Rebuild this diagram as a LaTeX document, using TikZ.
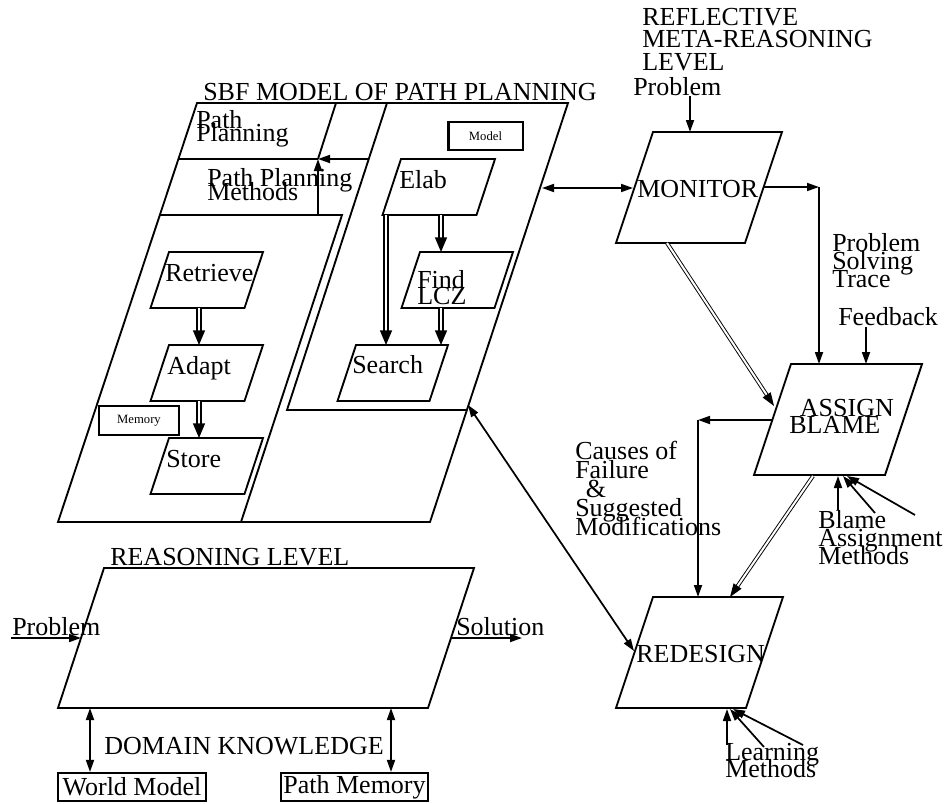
\documentclass[tikz,border=0pt]{standalone}
\usepackage{fontspec}
\setmainfont{Liberation Serif}
\usetikzlibrary{arrows.meta}
\lineskiplimit=-\maxdimen

\begin{document}
\begin{tikzpicture}[x=0.75pt,y=-0.75pt,>={Triangle[length=9pt,width=6pt]}]

  \tikzstyle{box}=[line width=1.4pt,line join=miter]
  \tikzstyle{flow}=[line width=1.3pt]
  \tikzstyle{dbl}=[double,double distance=1.6pt,line width=1.1pt,>={Triangle[length=11pt,width=9pt]}]
  \tikzstyle{thindbl}=[double,double distance=1.5pt,line width=0.7pt,>={Triangle[length=10pt,width=7pt]}]
  \tikzstyle{texto}=[inner sep=0pt,align=left,font=\fontsize{19.5}{14}\selectfont]
  \tikzstyle{small}=[draw,line width=2pt,inner sep=0pt,font=\fontsize{9.5}{11}\selectfont]
  \tikzstyle{store}=[draw,line width=1.6pt,inner sep=0pt,font=\fontsize{19.5}{14}\selectfont]

  \useasboundingbox (0,0) rectangle (945,803);

  \begin{scope}

    \draw[box] (197,103) -- (568,103) -- (430,522) -- (58,522) -- cycle;
    \draw[box] (387,103) -- (287,410) -- (467,410);
    \draw[box] (336,103) -- (318,159);
    \draw[box] (178,159) -- (318,159);
    \draw[box] (160,215) -- (342,215) -- (241,522);

    \draw[box] (401,159) -- (495,159) -- (476.5,215) -- (382.5,215) -- cycle;
    \draw[box] (420,252) -- (513,252) -- (494.5,308) -- (401.5,308) -- cycle;
    \draw[box] (356,345) -- (448,345) -- (429.5,401) -- (337.5,401) -- cycle;
    \draw[box] (169,252) -- (263,252) -- (244.5,308) -- (150.5,308) -- cycle;
    \draw[box] (169,345) -- (263,345) -- (244.5,401) -- (150.5,401) -- cycle;
    \draw[box] (169,438) -- (263,438) -- (244.5,494) -- (150.5,494) -- cycle;

    \draw[box] (653,132) -- (782,132) -- (745,243) -- (616,243) -- cycle;
    \draw[box] (791,364) -- (922,364) -- (885,475) -- (754,475) -- cycle;
    \draw[box] (653,597) -- (783,597) -- (746,708) -- (616,708) -- cycle;
    \draw[box] (104,568) -- (474,568) -- (428,708) -- (58,708) -- cycle;

    \node[texto,anchor=base west] (title) at (203,100) {SBF MODEL OF PATH PLANNING};
    \node[texto,anchor=north west,font=\fontsize{19.5}{10}\selectfont] (pp) at (196,110) {Path\\Planning};
    \node[texto,anchor=north west,font=\fontsize{19.5}{11}\selectfont] (ppm) at (207,168) {Path Planning\\Methods};
    \node[texto,anchor=base west] (elab) at (399,188) {Elab};
    \node[texto,anchor=north west,font=\fontsize{19.5}{12}\selectfont] (find) at (417,270) {Find\\LCZ};
    \node[texto,anchor=base west] (search) at (352,373) {Search};
    \node[texto,anchor=base west] (retrieve) at (165,281) {Retrieve};
    \node[texto,anchor=base west] (adapt) at (167,374) {Adapt};
    \node[texto,anchor=base west] (storetxt) at (166,467) {Store};
    \node[small,minimum width=56pt,minimum height=21pt] (model) at (485.5,136) {Model};
    \node[small,minimum width=60pt,minimum height=21.75pt] (memory) at (139,420.5) {Memory};

    \node[texto,anchor=north west,font=\fontsize{19.5}{16.8}\selectfont] (reflect) at (642,8) {REFLECTIVE\\META-REASONING\\LEVEL};
    \node[texto,anchor=base west] (probtop) at (633,95) {Problem};
    \node[texto,anchor=base west] (monitor) at (637,197) {MONITOR};
    \node[texto,anchor=north west,font=\fontsize{19.5}{13.5}\selectfont] (trace) at (832,233) {Problem\\Solving\\Trace};
    \node[texto,anchor=base west] (feedback) at (838,325) {Feedback};
    \node[texto,anchor=north west,font=\fontsize{19.5}{13}\selectfont] (assign) at (789,399) {\hspace{8pt}ASSIGN\\BLAME};
    \node[texto,anchor=north west,font=\fontsize{19.5}{14.25}\selectfont] (causes) at (575,441) {Causes of\\Failure\\\hspace{8pt}\&\\Suggested\\Modifications};
    \node[texto,anchor=north west,font=\fontsize{19.5}{13.5}\selectfont] (blame) at (818,510) {Blame\\Assignment\\Methods};
    \node[texto,anchor=base west] (redesign) at (636,662) {REDESIGN};
    \node[texto,anchor=north west,font=\fontsize{19.5}{12.75}\selectfont] (learning) at (725,743) {Learning\\Methods};

    \node[texto,anchor=base west] (reasoning) at (110,565) {REASONING LEVEL};
    \node[texto,anchor=base west] (probleft) at (12,635) {Problem};
    \node[texto,anchor=base west] (solution) at (456,635) {Solution};
    \node[texto,anchor=base west] (domain) at (104,754) {DOMAIN KNOWLEDGE};
    \node[store,minimum width=111pt,minimum height=21pt] (world) at (132,787) {World Model};
    \node[store,minimum width=110pt,minimum height=21pt] (pathmem) at (354.5,787) {Path Memory};

    \coordinate (retS) at (199,308);
    \coordinate (adaptN) at (199,345);
    \coordinate (adaptS) at (199,401);
    \coordinate (storeN) at (199,438);
    \coordinate (elabS) at (441,215);
    \coordinate (elabSW) at (386,215);
    \coordinate (findN) at (441,252);
    \coordinate (findS) at (441,308);
    \coordinate (searchN) at (441,345);
    \coordinate (searchNW) at (386,345);
    \coordinate (ppmS) at (318,215);
    \coordinate (ppS) at (318,159);
    \coordinate (modelW) at (368,159);
    \coordinate (modelE) at (542,188);
    \coordinate (monW) at (633,188);
    \coordinate (monE) at (764,187);
    \coordinate (corner) at (819,187);
    \coordinate (assignN) at (819,364);
    \coordinate (feedS) at (866,327);
    \coordinate (assignNE) at (866,364);
    \coordinate (probS) at (690,96);
    \coordinate (monN) at (690,132);
    \coordinate (monS) at (667,243);
    \coordinate (assignW) at (774,406);
    \coordinate (assignL) at (772,420);
    \coordinate (bend) at (698,420);
    \coordinate (redN) at (698,597);
    \coordinate (assignS) at (813,476);
    \coordinate (redNE) at (730,597);
    \coordinate (modelSE) at (468,405);
    \coordinate (redW) at (634,651);
    \coordinate (blameA) at (838,510);
    \coordinate (blameB) at (875,513);
    \coordinate (blameC) at (915,515);
    \coordinate (assignSA) at (838,476);
    \coordinate (assignSB) at (843,476);
    \coordinate (assignSC) at (847,476);
    \coordinate (learnA) at (727,745);
    \coordinate (learnB) at (764,747);
    \coordinate (learnC) at (803,745);
    \coordinate (redSA) at (727,709);
    \coordinate (redSB) at (730,709);
    \coordinate (redSC) at (733,709);
    \coordinate (probE) at (11,638);
    \coordinate (reasW) at (81,638);
    \coordinate (reasE) at (451,638);
    \coordinate (solE) at (522,638);
    \coordinate (reasSW) at (90,708);
    \coordinate (reasSE) at (391,708);

    \draw[dbl,->] (retS) -- (adaptN);
    \draw[dbl,->] (adaptS) -- (storeN);
    \draw[dbl,->] (elabS) -- (findN);
    \draw[dbl,->] (findS) -- (searchN);
    \draw[dbl,->] (elabSW) -- (searchNW);
    \draw[flow,->] (ppmS) -- (ppS);
    \draw[flow,->] (modelW) -- (ppS);
    \draw[flow,<->] (modelE) -- (monW);
    \draw[flow,->] (monE) -- (corner);
    \draw[flow,->] (corner) -- (assignN);
    \draw[flow,->] (feedS) -- (assignNE);
    \draw[flow,->] (probS) -- (monN);
    \draw[thindbl,->] (monS) -- (assignW);
    \draw[flow,->] (assignL) -- (bend);
    \draw[flow,->] (bend) -- (redN);
    \draw[thindbl,->] (assignS) -- (redNE);
    \draw[flow,<->] (modelSE) -- (redW);
    \draw[flow,->] (blameA) -- (assignSA);
    \draw[flow,->] (blameB) -- (assignSB);
    \draw[flow,->] (blameC) -- (assignSC);
    \draw[flow,->] (learnA) -- (redSA);
    \draw[flow,->] (learnB) -- (redSB);
    \draw[flow,->] (learnC) -- (redSC);
    \draw[flow,->] (probE) -- (reasW);
    \draw[flow,->] (reasE) -- (solE);
    \draw[flow,<->] (reasSW) -- (world.north -| reasSW);
    \draw[flow,<->] (reasSE) -- (pathmem.north -| reasSE);

  \end{scope}

\end{tikzpicture}
\end{document}
